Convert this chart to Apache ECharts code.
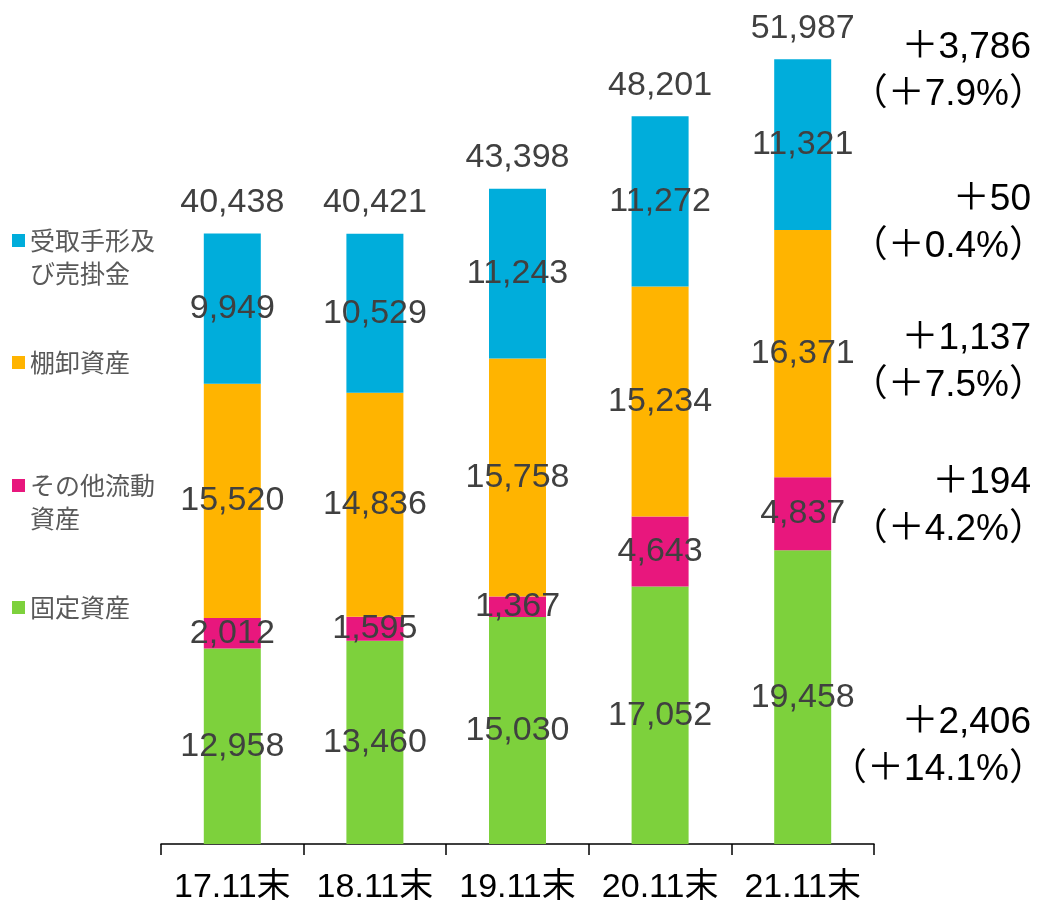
<!DOCTYPE html>
<html>
<head>
<meta charset="utf-8">
<script src="https://cdn.jsdelivr.net/npm/echarts@6/dist/echarts.min.js"></script>
<style>
  html, body { margin: 0; padding: 0; background: #fff; }
  #chart { width: 1038px; height: 905px; }
</style>
</head>
<body>
<div id="chart"></div>
<script>
// データ（百万円）
const categories = ['17.11末', '18.11末', '19.11末', '20.11末', '21.11末'];
const fixedAssets = [12958, 13460, 15030, 17052, 19458];      // 固定資産
const otherCurrent = [2012, 1595, 1367, 4643, 4837];          // その他流動資産
const inventories = [15520, 14836, 15758, 15234, 16371];      // 棚卸資産
const receivables = [9949, 10529, 11243, 11272, 11321];       // 受取手形及び売掛金
const totals = [40438, 40421, 43398, 48201, 51987];
// 前期比（右側の注記）
const deltaLabels = ['＋3,786', '＋50', '＋1,137', '＋194', '＋2,406'];
const deltaPcts = ['（＋7.9%）', '（＋0.4%）', '（＋7.5%）', '（＋4.2%）', '（＋14.1%）'];

const NUM_FONT = '"Liberation Sans", Arial, "Noto Sans CJK JP", sans-serif';
const JP_FONT = '"Noto Sans CJK JP", "Liberation Sans", sans-serif';

const fmt = (v) => Number(v).toLocaleString('en-US');

const segLabel = {
  show: true,
  position: 'inside',
  color: '#404040',
  fontSize: 34,
  fontFamily: NUM_FONT,
  formatter: (p) => fmt(p.value)
};

function stackSeries(name, data, color) {
  return {
    name: name,
    type: 'bar',
    stack: 'bs',
    barWidth: 57,
    itemStyle: { color: color },
    label: segLabel,
    emphasis: { disabled: true },
    data: data
  };
}

// 凡例（項目ごとに配置）二行のものはアイコンを一行目に合わせる
function legendItem(name, top) {
  return {
    top: top,
    left: 12,
    orient: 'vertical',
    padding: 0,
    itemWidth: 13,
    itemHeight: 13,
    itemGap: 0,
    icon: 'rect',
    selectedMode: false,
    textStyle: {
      color: '#595959',
      fontSize: 25,
      fontFamily: JP_FONT,
      lineHeight: 33,
      rich: {
        s: { height: 33, lineHeight: 33, fontSize: 10 },
        t: { color: '#595959', fontSize: 25, fontFamily: JP_FONT, lineHeight: 33 }
      }
    },
    formatter: (n) => {
      if (n === '受取手形及び売掛金') return '{s| }\n{t|受取手形及}\n{t|び売掛金}';
      if (n === 'その他流動資産') return '{s| }\n{t|その他流動}\n{t|資産}';
      return n;
    },
    data: [name]
  };
}

const annoCenters = [48, 200, 339, 483, 723];
const annoGap = 47;

const chart = echarts.init(document.getElementById('chart'));
chart.setOption({
  animation: false,
  backgroundColor: '#fff',
  grid: { left: 161, right: 164, top: 59, bottom: 58 },
  legend: [
    legendItem('受取手形及び売掛金', 191),
    legendItem('棚卸資産', 346),
    legendItem('その他流動資産', 436),
    legendItem('固定資産', 591)
  ],
  xAxis: {
    type: 'category',
    data: categories,
    axisLine: { lineStyle: { color: '#000', width: 1.5 } },
    axisTick: { show: true, interval: 0, length: 11, lineStyle: { color: '#000', width: 1.5 } },
    axisLabel: { interval: 0, color: '#000', fontSize: 34, fontFamily: NUM_FONT, margin: 27 }
  },
  yAxis: {
    type: 'value',
    min: 0,
    max: 52000,
    show: false,
    splitLine: { show: false }
  },
  series: [
    stackSeries('固定資産', fixedAssets, '#7DD13C'),
    stackSeries('その他流動資産', otherCurrent, '#E8177D'),
    stackSeries('棚卸資産', inventories, '#FFB400'),
    stackSeries('受取手形及び売掛金', receivables, '#00ADDB'),
    {
      name: '合計',
      type: 'bar',
      barWidth: 57,
      barGap: '-100%',
      z: 1,
      itemStyle: { color: 'rgba(0,0,0,0)' },
      label: {
        show: true,
        position: 'top',
        distance: 14,
        color: '#404040',
        fontSize: 34,
        fontFamily: NUM_FONT,
        formatter: (p) => fmt(p.value)
      },
      emphasis: { disabled: true },
      data: totals
    }
  ],
  graphic: deltaLabels.map((t, i) => ({
    type: 'text',
    x: 1031,
    y: annoCenters[i],
    silent: true,
    style: {
      text: t,
      align: 'right',
      verticalAlign: 'middle',
      fill: '#000',
      fontSize: 37,
      fontFamily: NUM_FONT
    }
  })).concat(deltaPcts.map((t, i) => ({
    type: 'text',
    x: 1046,
    y: annoCenters[i] + annoGap,
    silent: true,
    style: {
      text: t,
      align: 'right',
      verticalAlign: 'middle',
      fill: '#000',
      fontSize: 37,
      fontFamily: NUM_FONT
    }
  })))
});
</script>
</body>
</html>
